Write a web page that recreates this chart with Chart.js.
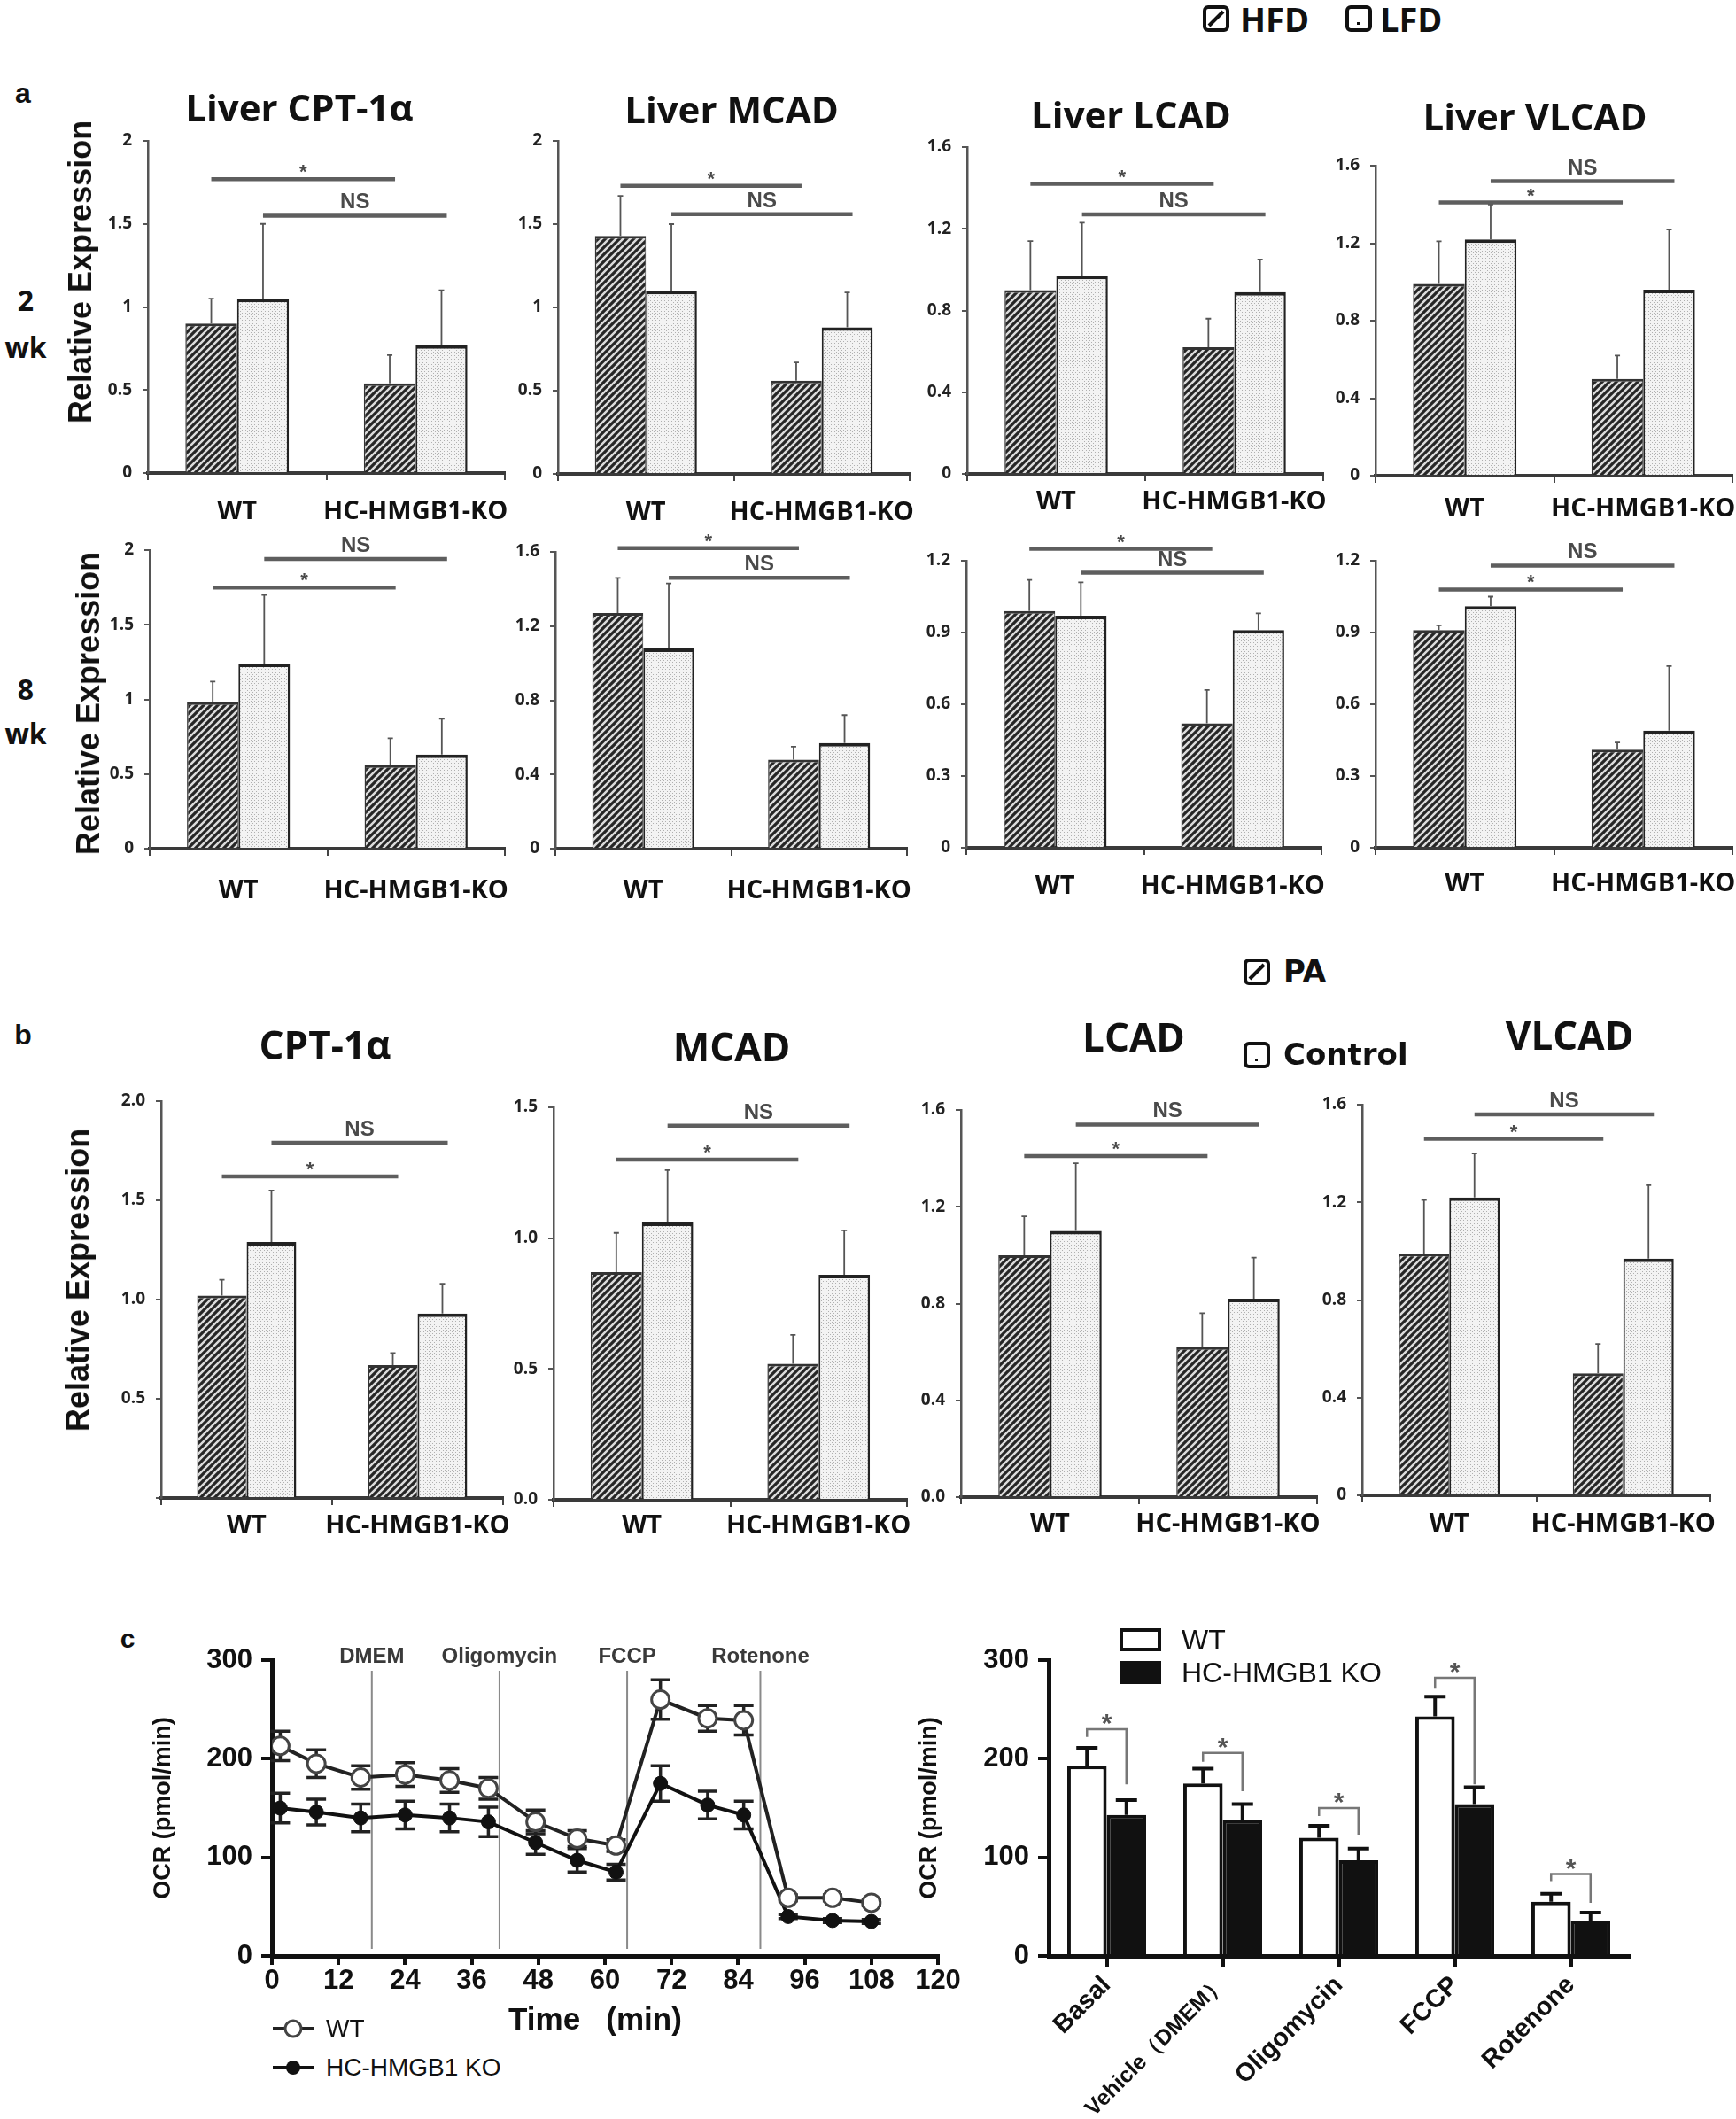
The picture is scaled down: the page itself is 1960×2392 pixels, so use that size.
<!DOCTYPE html>
<html>
<head>
<meta charset="utf-8">
<script src="https://cdn.jsdelivr.net/npm/chart.js@4.4.1/dist/chart.umd.min.js"></script>
<style>
body { margin: 0; background: #fff; }
#page { position: relative; width: 1960px; height: 2392px; overflow: hidden; background: #fff; color: #111; }
canvas { position: absolute; }
</style>
</head>
<body>
<div id="page"></div>
<script>
// ---------- data ----------
const groups = ['WT', 'HC-HMGB1-KO'];
const genes2wk = ['Liver CPT-1α', 'Liver MCAD', 'Liver LCAD', 'Liver VLCAD'];
const genesPA = ['CPT-1α', 'MCAD', 'LCAD', 'VLCAD'];

// relative expression per gene, [WT, HC-HMGB1-KO]
const hfd2wk = [[0.90, 0.54], [1.43, 0.56], [0.90, 0.62], [0.99, 0.50]];
const hfd2wkSd = [[0.15, 0.17], [0.24, 0.11], [0.24, 0.14], [0.22, 0.12]];
const lfd2wk = [[1.05, 0.77], [1.10, 0.88], [0.97, 0.89], [1.22, 0.96]];
const lfd2wkSd = [[0.45, 0.33], [0.40, 0.21], [0.26, 0.16], [0.18, 0.31]];

const hfd8wk = [[0.98, 0.56], [1.27, 0.48], [0.99, 0.52], [0.91, 0.41]];
const hfd8wkSd = [[0.14, 0.18], [0.19, 0.07], [0.13, 0.14], [0.02, 0.03]];
const lfd8wk = [[1.24, 0.63], [1.08, 0.57], [0.97, 0.91], [1.01, 0.49]];
const lfd8wkSd = [[0.46, 0.24], [0.35, 0.15], [0.14, 0.07], [0.04, 0.27]];

const pa = [[1.02, 0.67], [0.87, 0.52], [1.00, 0.62], [0.99, 0.50]];
const paSd = [[0.08, 0.06], [0.15, 0.11], [0.16, 0.14], [0.22, 0.12]];
const ctrl = [[1.29, 0.93], [1.06, 0.86], [1.10, 0.82], [1.22, 0.97]];
const ctrlSd = [[0.26, 0.15], [0.20, 0.17], [0.28, 0.17], [0.18, 0.30]];

// height of the * and NS bars, in axis units
const star2wk = [1.77, 1.73, 1.42, 1.41];
const ns2wk = [1.55, 1.56, 1.27, 1.52];
const star8wk = [1.75, 1.62, 1.25, 1.08];
const ns8wk = [1.94, 1.46, 1.15, 1.18];
const starPA = [1.62, 1.30, 1.41, 1.46];
const nsPA = [1.79, 1.43, 1.54, 1.56];

// y axis [max, step]
const axis2wk = [[2, 0.5], [2, 0.5], [1.6, 0.4], [1.6, 0.4]];
const axis8wk = [[2, 0.5], [1.6, 0.4], [1.2, 0.3], [1.2, 0.3]];
const axisPA = [[2, 0.5], [1.5, 0.5], [1.6, 0.4], [1.6, 0.4]];
const fmt2wk = ['plain', 'plain', 'auto', 'auto'];
const fmt8wk = ['plain', 'auto', 'auto', 'auto'];
const fmtPA = ['fixedNo0', 'fixed', 'fixed', 'auto'];

// seahorse OCR trace
const ocrTime = [1.5, 8, 16, 24, 32, 39, 47.5, 55, 62, 70, 78.5, 85, 93, 101, 108];
const ocrWT = [213, 195, 181, 184, 178, 170, 136, 119, 112, 260, 241, 239, 59, 59, 54];
const ocrWTSd = [15, 14, 12, 12, 12, 11, 12, 8, 6, 20, 13, 15, 3, 3, 3];
const ocrKO = [150, 146, 140, 143, 140, 136, 115, 97, 85, 175, 153, 143, 40, 36, 35];
const ocrKOSd = [15, 13, 14, 14, 14, 15, 12, 12, 8, 18, 14, 14, 2, 2, 2];
const injectTime = [18, 41, 64, 88];
const injectName = ['DMEM', 'Oligomycin', 'FCCP', 'Rotenone'];

const phases = ['Basal', 'Vehicle（DMEM）', 'Oligomycin', 'FCCP', 'Rotenone'];
const phaseWT = [193, 175, 120, 243, 55];
const phaseWTSd = [18, 15, 12, 20, 8];
const phaseKO = [143, 138, 97, 154, 36];
const phaseKOSd = [15, 16, 12, 17, 8];
const bracketTop = [230, 206, 150, 282, 83];
const bracketWT = [222, 197, 142, 271, 76];
const bracketKO = [174, 167, 123, 174, 54];

// ---------- layout (page pixels) ----------
// [y axis x, top tick y, zero y, x axis end, label drop]
const boxes2wk = [[167, 159, 534, 570, 44], [630, 159, 535, 1027, 44], [1092, 166, 535, 1494, 32], [1553, 187, 537, 1956, 38]];
const boxes8wk = [[169, 621, 958, 570, 48], [627, 623, 958, 1024, 48], [1091, 633, 957, 1492, 44], [1553, 633, 957, 1956, 41]];
const boxesPA = [[182, 1243, 1691, 568, 32], [625, 1250, 1693, 1024, 30], [1085, 1253, 1690, 1487, 31], [1538, 1247, 1688, 1931, 33]];
const titles2wkPos = [[338, 120], [826, 122], [1277, 128], [1733, 130]];
const titlesPAPos = [[367, 1179], [826, 1181], [1280, 1170], [1772, 1168]];

const page = document.getElementById('page');
Chart.defaults.font.family = 'Open Sans';
Chart.defaults.color = '#111';

function makeCanvas(x, y, w, h) {
    const c = document.createElement('canvas');
    c.width = Math.round(w);
    c.height = Math.round(h);
    c.style.left = Math.round(x) + 'px';
    c.style.top = Math.round(y) + 'px';
    page.appendChild(c);
    return c;
}

function text(str, x, y, css, opts = {}) {
    const d = document.createElement('div');
    d.textContent = str;
    const tr = opts.left ? 'translate(0,-50%)' : 'translate(-50%,-50%)';
    d.style.cssText = `position:absolute;left:${x}px;top:${y}px;white-space:pre;line-height:1;transform:${tr}${opts.rot ? ' rotate(-90deg)' : ''};${css}`;
    page.appendChild(d);
    return d;
}

function svgIcon(x, y, w, h, inner) {
    const d = document.createElement('div');
    d.style.cssText = `position:absolute;left:${x}px;top:${y}px;width:${w}px;height:${h}px;`;
    d.innerHTML = `<svg width="${w}" height="${h}" viewBox="0 0 ${w} ${h}">${inner}</svg>`;
    page.appendChild(d);
}

// fill patterns
function hatchPattern() {
    const t = document.createElement('canvas');
    t.width = t.height = 8;
    const g = t.getContext('2d');
    g.fillStyle = '#dcdcdc';
    g.fillRect(0, 0, 8, 8);
    g.strokeStyle = '#262626';
    g.lineWidth = 3.2;
    g.beginPath();
    g.moveTo(-2, 10); g.lineTo(10, -2);
    g.moveTo(-2, 2); g.lineTo(2, -2);
    g.moveTo(6, 10); g.lineTo(10, 6);
    g.stroke();
    return g.createPattern(t, 'repeat');
}
function dotPattern() {
    const t = document.createElement('canvas');
    t.width = t.height = 4;
    const g = t.getContext('2d');
    g.fillStyle = '#f3f3f3';
    g.fillRect(0, 0, 4, 4);
    g.fillStyle = '#b0b0b0';
    g.fillRect(0, 0, 1, 1);
    g.fillRect(2, 2, 1, 1);
    return g.createPattern(t, 'repeat');
}
const hatch = hatchPattern();
const dots = dotPattern();

// error bars drawn from dataset.errors
function errorBars(o) {
    const hook = o.under ? 'beforeDatasetsDraw' : 'afterDatasetsDraw';
    return {
        id: 'errbars',
        [hook](chart) {
            const ctx = chart.ctx, ys = chart.scales.y;
            ctx.save();
            ctx.strokeStyle = o.color;
            ctx.lineWidth = o.width;
            chart.data.datasets.forEach((ds, i) => {
                if (!ds.errors) return;
                chart.getDatasetMeta(i).data.forEach((el, j) => {
                    const raw = ds.data[j];
                    const v = typeof raw === 'object' ? raw.y : raw;
                    const e = ds.errors[j];
                    const x = el.x;
                    const hi = ys.getPixelForValue(v + e);
                    const lo = ys.getPixelForValue(o.both ? v - e : v);
                    ctx.beginPath();
                    ctx.moveTo(x, lo); ctx.lineTo(x, hi);
                    ctx.moveTo(x - o.cap, hi); ctx.lineTo(x + o.cap, hi);
                    if (o.both) { ctx.moveTo(x - o.cap, lo); ctx.lineTo(x + o.cap, lo); }
                    ctx.stroke();
                });
            });
            ctx.restore();
        }
    };
}

// * and NS comparison lines
function sigBars(star, ns) {
    return {
        id: 'sig',
        afterDatasetsDraw(chart) {
            const ctx = chart.ctx, ys = chart.scales.y;
            ctx.save();
            [[0, star, '*'], [1, ns, 'NS']].forEach(([i, v, txt]) => {
                const bars = chart.getDatasetMeta(i).data;
                const y = ys.getPixelForValue(v);
                const x1 = bars[0].x, x2 = bars[1].x + 6;
                ctx.strokeStyle = '#5e5e5e';
                ctx.lineWidth = 4.5;
                ctx.beginPath(); ctx.moveTo(x1, y); ctx.lineTo(x2, y); ctx.stroke();
                ctx.fillStyle = '#4a4a4a';
                ctx.textAlign = 'center';
                ctx.textBaseline = 'alphabetic';
                ctx.font = txt === '*' ? 'bold 22px "Liberation Sans"' : 'bold 24px "Liberation Sans Narrow", "Liberation Sans"';
                ctx.fillText(txt, (x1 + x2) / 2, txt === '*' ? y - 1 : y - 8);
            });
            ctx.restore();
        }
    };
}

function tickFormat(fmt) {
    if (fmt === 'plain') return v => String(Math.round(v * 10) / 10);
    if (fmt === 'fixed') return v => v.toFixed(1);
    if (fmt === 'fixedNo0') return v => (v === 0 ? '' : v.toFixed(1));
    return undefined;
}

function geneChart(box, ax, fmt, a, aSd, b, bSd, star, ns) {
    const [x0, top, zero, end, drop] = box;
    const Ly = 80, padT = 60, padR = 40, Lx = 80;
    const c = makeCanvas(x0 - Ly, top - padT, end - x0 + Ly + padR, zero - top + padT + Lx);
    const yTicks = { stepSize: ax[1], color: '#222', padding: 12, font: { family: 'Open Sans', weight: 'bold', size: 19 } };
    const cb = tickFormat(fmt);
    if (cb) yTicks.callback = cb;
    new Chart(c, {
        type: 'bar',
        data: {
            labels: groups,
            datasets: [
                { data: a, errors: aSd, backgroundColor: hatch, borderColor: '#333', borderWidth: { top: 3, left: 1.5, right: 1, bottom: 0 } },
                { data: b, errors: bSd, backgroundColor: dots, borderColor: '#222', borderWidth: { top: 4, left: 2, right: 2.5, bottom: 0 } }
            ]
        },
        options: {
            responsive: false,
            animation: false,
            events: [],
            layout: { padding: { top: padT, right: padR, left: 0, bottom: 0 } },
            datasets: { bar: { categoryPercentage: 0.58, barPercentage: 1 } },
            plugins: { legend: { display: false }, tooltip: { enabled: false } },
            scales: {
                x: {
                    grid: { display: true, drawOnChartArea: false, tickLength: 8, color: '#444', lineWidth: 2, offset: true },
                    border: { color: '#3a3a3a', width: 4 },
                    ticks: { color: '#111', font: { family: 'Open Sans', weight: 'bold', size: 29 }, padding: drop - 8 - 17.4, maxRotation: 0, minRotation: 0, autoSkip: false },
                    afterFit: s => { s.height = Lx; }
                },
                y: {
                    min: 0, max: ax[0],
                    ticks: yTicks,
                    grid: { display: true, drawOnChartArea: false, tickLength: 6, color: '#555', lineWidth: 2 },
                    border: { color: '#555', width: 2.5 },
                    afterFit: s => { s.width = Ly; }
                }
            }
        },
        plugins: [errorBars({ color: '#555', width: 1.8, cap: 3 }), sigBars(star, ns)]
    });
}

for (let i = 0; i < 4; i++) {
    geneChart(boxes2wk[i], axis2wk[i], fmt2wk[i], hfd2wk[i], hfd2wkSd[i], lfd2wk[i], lfd2wkSd[i], star2wk[i], ns2wk[i]);
    geneChart(boxes8wk[i], axis8wk[i], fmt8wk[i], hfd8wk[i], hfd8wkSd[i], lfd8wk[i], lfd8wkSd[i], star8wk[i], ns8wk[i]);
    geneChart(boxesPA[i], axisPA[i], fmtPA[i], pa[i], paSd[i], ctrl[i], ctrlSd[i], starPA[i], nsPA[i]);
}

// ---------- panel c: OCR trace ----------
const injectLines = {
    id: 'inject',
    beforeDatasetsDraw(chart) {
        const ctx = chart.ctx, xs = chart.scales.x, area = chart.chartArea;
        ctx.save();
        ctx.strokeStyle = '#8a8a8a';
        ctx.lineWidth = 2;
        ctx.fillStyle = '#3a3a3a';
        ctx.font = 'bold 24px "Liberation Sans"';
        ctx.textAlign = 'center';
        ctx.textBaseline = 'middle';
        injectTime.forEach((t, i) => {
            const x = xs.getPixelForValue(t);
            ctx.beginPath();
            ctx.moveTo(x, area.top + 12);
            ctx.lineTo(x, area.bottom - 8);
            ctx.stroke();
            ctx.fillText(injectName[i], x, area.top - 4);
        });
        ctx.restore();
    }
};

const axisFont = { family: 'Liberation Sans', weight: 'bold', size: 31 };
{
    const left = 168, top = 1820, axisX = 307, topY = 1874, zeroY = 2208, end = 1059;
    const Ly = axisX - left, padT = topY - top, padR = 40, Lx = 60;
    const c = makeCanvas(left, top, end - axisX + Ly + padR, zeroY - topY + padT + Lx);
    new Chart(c, {
        type: 'line',
        data: {
            datasets: [
                {
                    label: 'WT', data: ocrTime.map((t, i) => ({ x: t, y: ocrWT[i] })), errors: ocrWTSd,
                    borderColor: '#222', borderWidth: 4, tension: 0,
                    pointRadius: 10, pointBackgroundColor: '#fff', pointBorderColor: '#444', pointBorderWidth: 3
                },
                {
                    label: 'HC-HMGB1 KO', data: ocrTime.map((t, i) => ({ x: t, y: ocrKO[i] })), errors: ocrKOSd,
                    borderColor: '#111', borderWidth: 4, tension: 0,
                    pointRadius: 8, pointBackgroundColor: '#111', pointBorderColor: '#111', pointBorderWidth: 1
                }
            ]
        },
        options: {
            responsive: false,
            animation: false,
            events: [],
            layout: { padding: { top: padT, right: padR, left: 0, bottom: 0 } },
            plugins: { legend: { display: false }, tooltip: { enabled: false } },
            scales: {
                x: {
                    type: 'linear', min: 0, max: 120,
                    ticks: { stepSize: 12, color: '#111', font: axisFont, padding: 0, maxRotation: 0 },
                    grid: { display: true, drawOnChartArea: false, tickLength: 10, color: '#111', lineWidth: 4 },
                    border: { color: '#111', width: 5 },
                    afterFit: s => { s.height = Lx; }
                },
                y: {
                    min: 0, max: 300,
                    ticks: { stepSize: 100, color: '#111', font: axisFont, padding: 10 },
                    grid: { display: true, drawOnChartArea: false, tickLength: 12, color: '#111', lineWidth: 4 },
                    border: { color: '#111', width: 5 },
                    title: { display: true, text: 'OCR (pmol/min)', color: '#111', font: { family: 'Liberation Sans', weight: 'bold', size: 27 }, padding: 0 },
                    afterFit: s => { s.width = Ly; }
                }
            }
        },
        plugins: [injectLines, errorBars({ color: '#222', width: 3.5, cap: 11, both: true, under: true })]
    });
}

// ---------- panel c: OCR by phase ----------
const brackets = {
    id: 'brackets',
    afterDatasetsDraw(chart) {
        const ctx = chart.ctx, ys = chart.scales.y;
        const wt = chart.getDatasetMeta(0).data, ko = chart.getDatasetMeta(1).data;
        ctx.save();
        ctx.strokeStyle = '#777';
        ctx.lineWidth = 2.5;
        ctx.fillStyle = '#555';
        ctx.font = 'bold 30px "Liberation Sans"';
        ctx.textAlign = 'center';
        ctx.textBaseline = 'alphabetic';
        bracketTop.forEach((v, i) => {
            const yT = ys.getPixelForValue(v);
            ctx.beginPath();
            ctx.moveTo(wt[i].x, ys.getPixelForValue(bracketWT[i]));
            ctx.lineTo(wt[i].x, yT);
            ctx.lineTo(ko[i].x, yT);
            ctx.lineTo(ko[i].x, ys.getPixelForValue(bracketKO[i]));
            ctx.stroke();
            ctx.fillText('*', (wt[i].x + ko[i].x) / 2, yT + 3);
        });
        ctx.restore();
    }
};

{
    const left = 1033, top = 1820, axisX = 1184, topY = 1874, zeroY = 2208, end = 1839;
    const Ly = axisX - left, padT = topY - top, padR = 40, Lx = 2392 - zeroY;
    const c = makeCanvas(left, top, end - axisX + Ly + padR, zeroY - topY + padT + Lx);
    new Chart(c, {
        type: 'bar',
        data: {
            labels: phases,
            datasets: [
                { label: 'WT', data: phaseWT, errors: phaseWTSd, backgroundColor: '#fff', borderColor: '#111', borderWidth: 4 },
                { label: 'HC-HMGB1 KO', data: phaseKO, errors: phaseKOSd, backgroundColor: '#111', borderColor: '#111', borderWidth: 4 }
            ]
        },
        options: {
            responsive: false,
            animation: false,
            events: [],
            layout: { padding: { top: padT, right: padR, left: 0, bottom: 0 } },
            datasets: { bar: { categoryPercentage: 0.68, barPercentage: 1 } },
            plugins: { legend: { display: false }, tooltip: { enabled: false } },
            scales: {
                x: {
                    ticks: {
                        color: '#111',
                        font: ctx => ({ family: 'Liberation Sans', weight: 'bold', size: ctx.index === 1 ? 25 : 29 }),
                        padding: 4, maxRotation: 45, minRotation: 45, autoSkip: false
                    },
                    grid: { display: true, drawOnChartArea: false, tickLength: 12, color: '#111', lineWidth: 4, offset: false },
                    border: { color: '#111', width: 5 },
                    afterFit: s => { s.height = Lx; }
                },
                y: {
                    min: 0, max: 300,
                    ticks: { stepSize: 100, color: '#111', font: axisFont, padding: 10 },
                    grid: { display: true, drawOnChartArea: false, tickLength: 12, color: '#111', lineWidth: 4 },
                    border: { color: '#111', width: 5 },
                    title: { display: true, text: 'OCR (pmol/min)', color: '#111', font: { family: 'Liberation Sans', weight: 'bold', size: 27 }, padding: 0 },
                    afterFit: s => { s.width = Ly; }
                }
            }
        },
        plugins: [errorBars({ color: '#111', width: 4, cap: 12 }), brackets]
    });
}

// ---------- text and legends ----------
const letterCss = "font:700 32px 'Liberation Sans';";
const titleCss = "font:700 42px 'Open Sans';";
const titleBCss = "font:700 44px 'Open Sans';";
const relCss = "font:700 36px 'Liberation Sans';";
const wkCss = "font:700 32px 'Open Sans';";

text('a', 26, 105, letterCss);
text('b', 26, 1168, letterCss);
text('c', 144, 1850, "font:700 30px 'Liberation Sans';");

genes2wk.forEach((g, i) => text(g, titles2wkPos[i][0], titles2wkPos[i][1], titleCss));
genesPA.forEach((g, i) => text(g, titlesPAPos[i][0], titlesPAPos[i][1], titleBCss));

text('Relative Expression', 91, 307, relCss, { rot: true });
text('Relative Expression', 100, 794, relCss, { rot: true });
text('Relative Expression', 88, 1445, relCss, { rot: true });
text('2', 29, 338, wkCss);
text('wk', 29, 391, wkCss);
text('8', 29, 777, wkCss);
text('wk', 29, 827, wkCss);

// HFD / LFD legend
const slashBox = '<rect x="2" y="2" width="26" height="26" rx="4" fill="#fff" stroke="#111" stroke-width="4"/><line x1="7" y1="23" x2="23" y2="7" stroke="#111" stroke-width="4"/>';
const dotBox = '<rect x="2" y="2" width="26" height="26" rx="4" fill="#fff" stroke="#111" stroke-width="4"/><rect x="13" y="19" width="3" height="3" fill="#111"/>';
svgIcon(1358, 6, 30, 30, slashBox);
text('HFD', 1400, 21, "font:700 38px 'Open Sans';", { left: true });
svgIcon(1519, 6, 30, 30, dotBox);
text('LFD', 1558, 21, "font:700 38px 'Open Sans';", { left: true });

// PA / Control legend
svgIcon(1404, 1082, 30, 30, slashBox);
text('PA', 1449, 1096, "font:700 34px 'DejaVu Sans';", { left: true });
svgIcon(1404, 1176, 30, 30, dotBox);
text('Control', 1449, 1190, "font:700 34px 'DejaVu Sans';", { left: true });

// OCR trace labels
text('Time   (min)', 672, 2279, "font:700 35px 'Liberation Sans';");
svgIcon(306, 2277, 50, 26, '<line x1="2" y1="13" x2="48" y2="13" stroke="#222" stroke-width="4"/><circle cx="25" cy="13" r="9" fill="#fff" stroke="#444" stroke-width="3"/>');
text('WT', 368, 2290, "font:400 28px 'Liberation Sans';", { left: true });
svgIcon(306, 2321, 50, 26, '<line x1="2" y1="13" x2="48" y2="13" stroke="#111" stroke-width="4"/><circle cx="25" cy="13" r="8" fill="#111"/>');
text('HC-HMGB1 KO', 368, 2334, "font:400 28px 'Liberation Sans';", { left: true });

// OCR by phase legend
svgIcon(1264, 1838, 48, 27, '<rect x="2" y="2" width="43" height="22" fill="#fff" stroke="#111" stroke-width="4"/>');
text('WT', 1334, 1851, "font:400 32px 'Liberation Sans';", { left: true });
svgIcon(1264, 1875, 48, 27, '<rect x="2" y="2" width="43" height="22" fill="#111" stroke="#111" stroke-width="4"/>');
text('HC-HMGB1 KO', 1334, 1888, "font:400 32px 'Liberation Sans';", { left: true });
</script>
</body>
</html>
